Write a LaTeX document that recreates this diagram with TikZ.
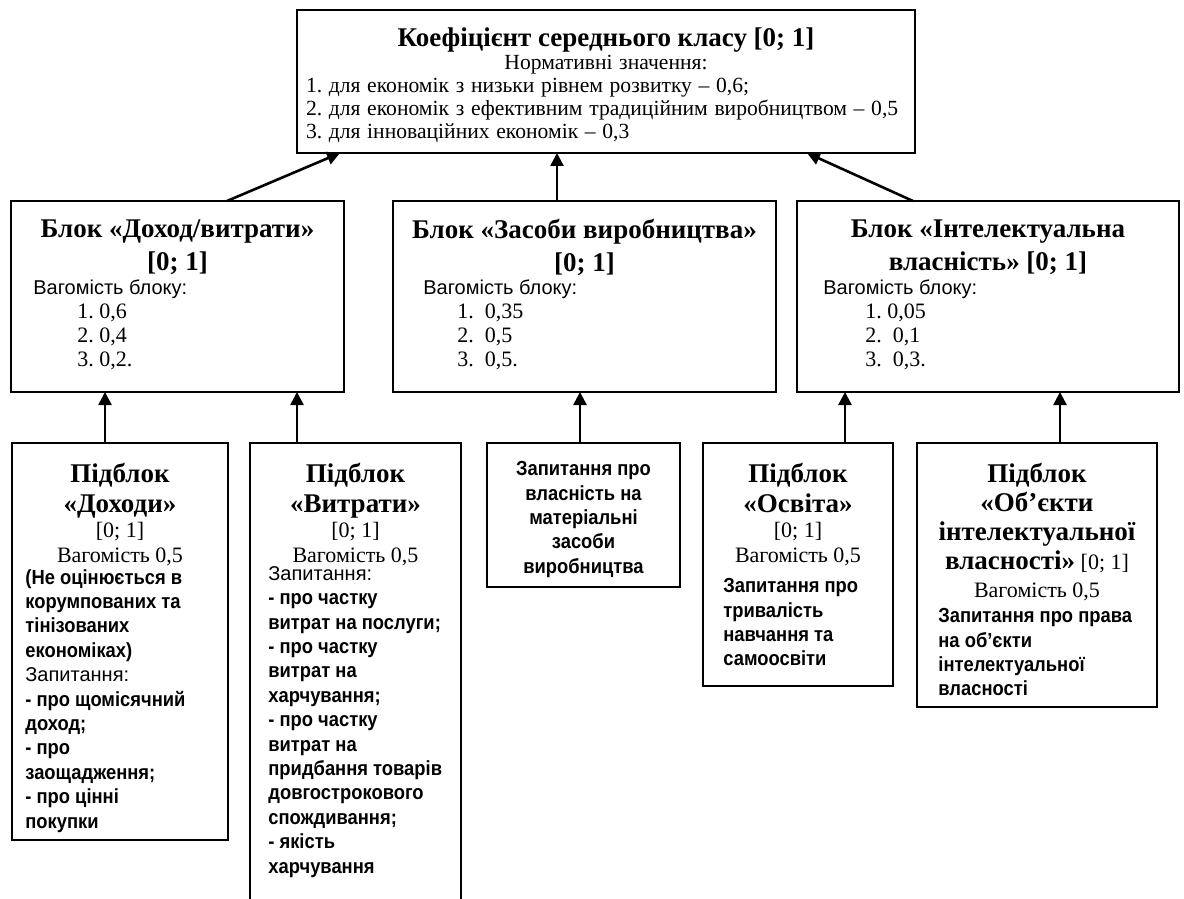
\documentclass[tikz,border=0pt]{standalone}
\usepackage{fontspec}
\setmainfont{Liberation Serif}
\setsansfont{Liberation Sans}
\newfontfamily\narrowsf{Liberation Sans}[FakeStretch=0.9]
\usetikzlibrary{arrows.meta,positioning}
\frenchspacing

\newcommand{\headfont}{\fontsize{13.5}{16.5}\selectfont\rmfamily\bfseries}
\newcommand{\plainfont}{\fontsize{10.8}{11.5}\selectfont\rmfamily\mdseries}
\newcommand{\listfont}{\fontsize{11}{12}\selectfont\rmfamily\mdseries}
\newcommand{\subfont}{\fontsize{11}{12.5}\selectfont\rmfamily\mdseries}
\newcommand{\weightfont}{\fontsize{10}{12}\selectfont\sffamily\mdseries}
\newcommand{\askfont}{\fontsize{10.2}{12.2}\selectfont\narrowsf\bfseries}

\begin{document}
\begin{tikzpicture}[x=0.5pt,y=-0.5pt,
    frame/.style={draw=black,line width=1pt,inner sep=0pt,outer sep=0pt,anchor=north west},
    head/.style={anchor=north,inner sep=0pt,align=center},
    list/.style={anchor=north west,inner sep=0pt,align=left},
    arr/.style={line width=1.3pt,-{Triangle[length=6.5pt,width=6.5pt]}}
  ]
  \useasboundingbox (0,0) rectangle (1184,899);

  % frames
  \node[frame,minimum width=309pt,minimum height=71.5pt] (top) at (297,10) {};
  \node[frame,minimum width=166.5pt,minimum height=95.5pt] (b1) at (11,201) {};
  \node[frame,minimum width=191.5pt,minimum height=95.5pt] (b2) at (393,201) {};
  \node[frame,minimum width=191pt,minimum height=95.5pt] (b3) at (797,201) {};
  \node[frame,minimum width=108pt,minimum height=198.5pt] (s1) at (12,443) {};
  \node[frame,draw=none,minimum width=105.5pt,minimum height=228pt] (s2) at (250,443) {};
  \draw[line width=1pt] (s2.south west) |- (s2.north east) -- (s2.south east);
  \node[frame,minimum width=96.5pt,minimum height=72pt] (s3) at (487,443) {};
  \node[frame,minimum width=95pt,minimum height=121.5pt] (s4) at (703,443) {};
  \node[frame,minimum width=120pt,minimum height=132pt] (s5) at (917,443) {};

  % top box text
  \node[anchor=north,inner sep=0pt,text width=300pt] (toptxt) at ([yshift=-8.5pt]top.north)
    {{\centering\headfont Коефіцієнт середнього класу [0; 1]\par}
     {\centering\plainfont Нормативні значення:\par}
     \plainfont\raggedright
     1. для економік з низьки рівнем розвитку – 0,6;\\
     2. для економік з ефективним традиційним виробництвом – 0,5\\
     3. для інноваційних економік – 0,3\par};

  % blocks
  \node[head,font=\headfont] (h1) at ([yshift=-9pt]b1.north) {Блок «Доход/витрати»\\{[0; 1]}};
  \node[head,font=\headfont] (h2) at ([yshift=-9pt]b2.north) {Блок «Засоби виробництва»\\{[0; 1]}};
  \node[head,font=\headfont] (h3) at ([yshift=-9pt]b3.north) {Блок «Інтелектуальна\\власність» [0; 1]};

  \node[list,font=\listfont] (w1) at ([xshift=11pt,yshift=-39pt]b1.north west)
    {{\weightfont Вагомість блоку:}\\ \hspace*{22pt}1. 0,6\\ \hspace*{22pt}2. 0,4\\ \hspace*{22pt}3. 0,2.};
  \node[list,font=\listfont] (w2) at ([xshift=15pt,yshift=-39pt]b2.north west)
    {{\weightfont Вагомість блоку:}\\ \hspace*{17pt}1.\enspace 0,35\\ \hspace*{17pt}2.\enspace 0,5\\ \hspace*{17pt}3.\enspace 0,5.};
  \node[list,font=\listfont] (w3) at ([xshift=13pt,yshift=-39pt]b3.north west)
    {{\weightfont Вагомість блоку:}\\ \hspace*{21pt}1. 0,05\\ \hspace*{21pt}2.\enspace 0,1\\ \hspace*{21pt}3.\enspace 0,3.};

  % sub-blocks
  \node[head,font=\subfont] (hs1) at ([yshift=-10pt]s1.north)
    {{\headfont Підблок}\\[2.5pt]{\headfont «Доходи»}\\{[0; 1]}\\Вагомість 0,5};
  \node[list,font=\askfont] (q1) at ([xshift=6.5pt,yshift=-63pt]s1.north west)
    {(Не оцінюється в\\корумпованих та\\тінізованих\\економіках)\\{\weightfont Запитання:}\\- про щомісячний\\доход;\\- про\\заощадження;\\- про цінні\\покупки};

  \node[head,font=\subfont] (hs2) at ([yshift=-10pt]s2.north)
    {{\headfont Підблок}\\[2.5pt]{\headfont «Витрати»}\\{[0; 1]}\\Вагомість 0,5};
  \node[list,font=\askfont] (q2) at ([xshift=9pt,yshift=-61.5pt]s2.north west)
    {{\weightfont Запитання:}\\- про частку\\витрат на послуги;\\- про частку\\витрат на\\харчування;\\- про частку\\витрат на\\придбання товарів\\довгострокового\\спождивання;\\- якість\\харчування};

  \node[head,font=\askfont] (q3) at ([yshift=-9pt]s3.north)
    {Запитання про\\власність на\\матеріальні\\засоби\\виробництва};

  \node[head,font=\subfont] (hs4) at ([yshift=-10pt]s4.north)
    {{\headfont Підблок}\\[2.5pt]{\headfont «Освіта»}\\{[0; 1]}\\Вагомість 0,5};
  \node[list,font=\askfont] (q4) at ([xshift=10pt,yshift=-67.5pt]s4.north west)
    {Запитання про\\тривалість\\навчання та\\самоосвіти};

  \node[head,font=\subfont] (hs5) at ([yshift=-10pt]s5.north)
    {{\headfont Підблок}\\[2pt]{\headfont «Об’єкти}\\[2pt]{\headfont інтелектуальної}\\[2pt]{\headfont власності»} [0; 1]\\[1.5pt]Вагомість 0,5};
  \node[list,font=\askfont] (q5) at ([xshift=10.5pt,yshift=-82.5pt]s5.north west)
    {Запитання про права\\на об’єкти\\інтелектуальної\\власності};

  % arrows
  \foreach \b/\xa/\xb in {b1/227/340,b2/557/557,b3/913/807}
    \draw[arr] (\b.north -| \xa,0) -- (top.south -| \xb,0);
  \foreach \s/\b/\xa in {s1/b1/105,s2/b1/297,s3/b2/580,s4/b3/845,s5/b3/1060}
    \draw[arr] (\s.north -| \xa,0) -- (\b.south -| \xa,0);
\end{tikzpicture}
\end{document}
